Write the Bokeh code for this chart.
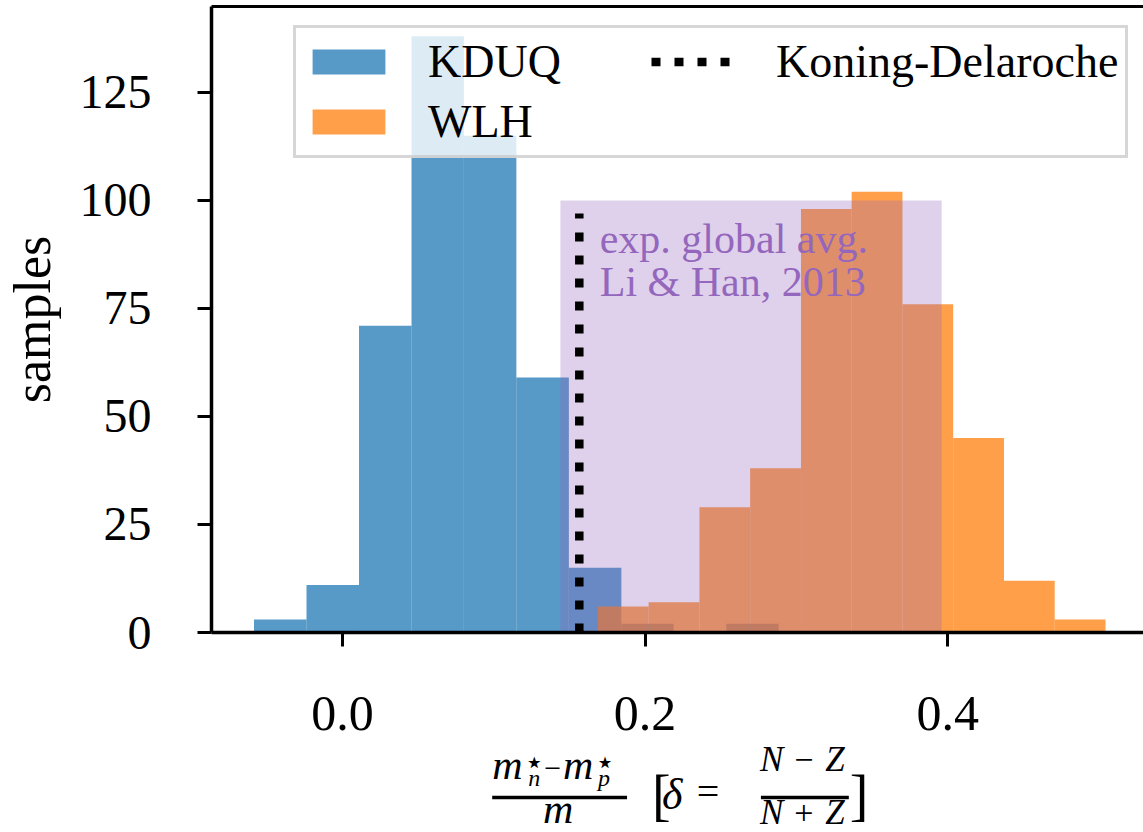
from bokeh.plotting import figure
from bokeh.layouts import column
from bokeh.models import Range1d, FixedTicker, Legend, LegendItem, Label, LinearAxis
from bokeh.embed import file_html
from bokeh.resources import INLINE

# ---------------- data ----------------
kduq_edges = [-0.0585, -0.0238, 0.0109, 0.0456, 0.0802, 0.1149, 0.1496, 0.1843, 0.2189, 0.2536, 0.2883]
kduq_counts = [3, 11, 71, 138, 115, 59, 15, 2, 0, 2]
wlh_edges = [0.1688, 0.2023, 0.2359, 0.2694, 0.3030, 0.3365, 0.3701, 0.4036, 0.4372, 0.4707, 0.5043]
wlh_counts = [6, 7, 29, 38, 98, 102, 76, 45, 12, 3]
kd_value = 0.1565          # Koning-Delaroche
kd_top = 97
band_low, band_high, band_top = 0.144, 0.396, 100   # exp. global avg. (Li & Han, 2013)
x_ticks = [0.0, 0.2, 0.4]
x_tick_labels = ["0.0", "0.2", "0.4"]
y_ticks = [0, 25, 50, 75, 100, 125]
y_tick_labels = ["0", "25", "50", "75", "100", "125"]

FONT = "Liberation Serif"
X0, X1 = -0.0866, 0.5294
Y0, Y1 = 0, 144.9
W, H = 1143, 832
H_MAIN = 662
H_LAB = H - H_MAIN
BL, BR, BT, BB = 210, 0, 6, 30
BASE_CORR = 0.32   # Bokeh label baseline correction (fraction of font size)

p = figure(width=W, height=H_MAIN, x_range=Range1d(X0, X1), y_range=Range1d(Y0, Y1),
           output_backend="svg", toolbar_location=None, x_axis_location=None,
           min_border_left=BL, min_border_right=BR, min_border_top=BT, min_border_bottom=BB)
p.outline_line_color = None
p.xgrid.visible = False
p.ygrid.visible = False
p.background_fill_color = "white"
p.border_fill_color = "white"

# histograms
r_kd = p.quad(left=kduq_edges[:-1], right=kduq_edges[1:], bottom=0, top=kduq_counts,
              fill_color="#1f77b4", fill_alpha=0.75, line_color=None)
r_wlh = p.quad(left=wlh_edges[:-1], right=wlh_edges[1:], bottom=0, top=wlh_counts,
               fill_color="#ff7f0e", fill_alpha=0.75, line_color=None)
# experimental band
p.quad(left=[band_low], right=[band_high], bottom=[0], top=[band_top],
       fill_color="#9467bd", fill_alpha=0.3, line_color=None)
# Koning-Delaroche
r_kdl = p.line(x=[kd_value, kd_value], y=[0, kd_top], line_color="black",
               line_width=8.5, line_dash="9 14")

# band text
YPX = (H_MAIN - BT - BB) / (Y1 - Y0)
for txt, yv in [("exp. global avg.", 88.0), ("Li & Han, 2013", 78.0)]:
    p.add_layout(Label(x=band_low + 0.026, y=yv + BASE_CORR * 42 / YPX, text=txt, text_font=FONT,
                       text_font_size="42px", text_color="#9467bd",
                       text_align="left", text_baseline="alphabetic"))

# bottom axis: spine + tick marks (tick labels are drawn in the strip below)
xa = LinearAxis(ticker=FixedTicker(ticks=[], minor_ticks=x_ticks),
                axis_line_width=3.5, axis_line_color="black",
                major_tick_out=0, major_tick_in=0,
                minor_tick_out=14, minor_tick_in=0, minor_tick_line_width=3,
                minor_tick_line_color="black", major_label_standoff=0)
p.add_layout(xa, "below")

ya = p.yaxis[0]
ya.axis_line_width = 3.5
ya.axis_line_color = "black"
ya.major_tick_line_width = 3
ya.major_tick_out = 14
ya.major_tick_in = 0
ya.minor_tick_line_color = None
ya.major_label_text_font = FONT
ya.major_label_text_color = "black"
ya.ticker = FixedTicker(ticks=y_ticks)
ya.major_label_overrides = {t: l for t, l in zip(y_ticks, y_tick_labels)}
ya.major_label_text_font_size = "48px"
ya.major_label_standoff = 46
ya.axis_label = "samples"
ya.axis_label_text_font = FONT
ya.axis_label_text_font_size = "52px"
ya.axis_label_text_font_style = "normal"
ya.axis_label_text_color = "black"
ya.axis_label_standoff = 16

top_ax = LinearAxis(ticker=FixedTicker(ticks=[]), axis_line_width=3, major_tick_out=0,
                    major_tick_in=0, minor_tick_out=0, minor_tick_in=0,
                    major_label_standoff=0)
p.add_layout(top_ax, "above")

# legend
legend = Legend(items=[LegendItem(label="KDUQ", renderers=[r_kd]),
                       LegendItem(label="WLH", renderers=[r_wlh]),
                       LegendItem(label="Koning-Delaroche", renderers=[r_kdl])],
                location=(82, 474), nrows=2,
                glyph_width=91, glyph_height=31, label_standoff=34, label_width=216,
                padding=7, spacing=7,
                label_text_font=FONT, label_text_font_size="46px", label_text_color="black",
                border_line_color="#cccccc", border_line_alpha=0.8, border_line_width=3,
                background_fill_color="white", background_fill_alpha=0.8)
p.add_layout(legend)

# ---------------- strip below the frame: x tick labels and x-axis label ----------------
# shares the x range with the main plot; y is in page pixels
q = figure(width=W, height=H_LAB, x_range=p.x_range, y_range=Range1d(H, H_MAIN),
           output_backend="svg", toolbar_location=None, x_axis_type=None, y_axis_type=None,
           min_border_left=BL, min_border_right=0, min_border_top=0, min_border_bottom=0)
q.outline_line_color = None
q.xgrid.visible = False
q.ygrid.visible = False
q.background_fill_color = "white"
q.border_fill_color = "white"

XPX = (W - BL - BR) / (X1 - X0)

def dx(px):
    return X0 + (px - BL) / XPX

def lab(text, px, py, size, italic=False, align="left", data_x=False, font=FONT):
    q.add_layout(Label(x=px if data_x else dx(px), y=py - BASE_CORR * size, text=text,
                       text_font=font, text_font_size=f"{size}px",
                       text_font_style="italic" if italic else "normal",
                       text_align=align, text_baseline="alphabetic", text_color="black"))

# x tick labels
for t, l in zip(x_ticks, x_tick_labels):
    lab(l, t, 729, 50, align="center", data_x=True)

bars_x0 = [dx(491), dx(760)]
bars_x1 = [dx(626), dx(848)]
bars_y = [797, 797]
q.segment(x0=bars_x0, y0=bars_y, x1=bars_x1, y1=bars_y, line_width=3.5, line_color="black")

# (m*_n - m*_p) / m
lab("m", 491, 778, 42, True)
lab("⋆", 523, 772, 32, font="DejaVu Sans")
lab("n", 527, 785, 24, True)
lab("−", 543, 778, 30)
lab("m", 562, 778, 42, True)
lab("⋆", 594, 772, 32, font="DejaVu Sans")
lab("p", 597, 785, 24, True)
lab("m", 557, 822, 42, True, align="center")
# [delta = (N-Z)/(N+Z)]
lab("[", 651, 812, 56)
lab("δ", 661, 808, 44, True)
lab("=", 707, 804, 40, align="center")
lab("N", 759, 770, 35, True)
lab("−", 803, 770, 34, align="center")
lab("Z", 844, 770, 35, True, align="right")
lab("N", 759, 823, 35, True)
lab("+", 803, 823, 34, align="center")
lab("Z", 844, 823, 35, True, align="right")
lab("]", 849, 812, 56)

layout = column(p, q, spacing=0)
open("out.html", "w").write(file_html(layout, INLINE))
